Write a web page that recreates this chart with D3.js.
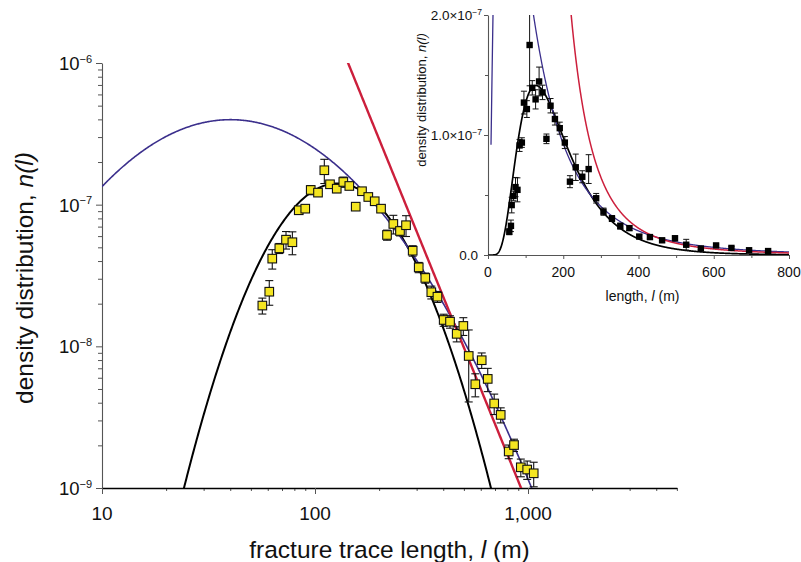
<!DOCTYPE html>
<html>
<head>
<meta charset="utf-8">
<script src="https://cdn.jsdelivr.net/npm/d3@7"></script>
<style>
  body { margin: 0; background: #fff; }
  svg { display: block; font-family: "Liberation Sans", Arial, sans-serif; }
</style>
</head>
<body>
<svg id="chart" width="801" height="562"></svg>
<script>
// Binned fracture trace lengths (m)
const traceLength = [56.6, 61.0, 63.0, 68.0, 73.1, 78.3, 83.9, 90.0, 95.5, 103.3,
  110.6, 117.6, 126.5, 135.8, 144.9, 155.3, 166.2, 177.9, 190.7, 204.2,
  217.8, 233.2, 250.6, 267.5, 287.5, 306.9, 329.5, 351.6, 375.8, 402.0,
  430.4, 462.7, 497.0, 526.8, 565.7, 606.2, 647.0, 693.9, 744.5, 811.8,
  859.8, 925.2, 991.3, 1063.6];
// Density distribution n(l) per bin
const density = [1.94e-8, 2.43e-8, 4.16e-8, 4.92e-8, 5.66e-8, 5.43e-8, 9.13e-8, 9.37e-8, 1.27e-7, 1.216e-7,
  1.75e-7, 1.393e-7, 1.297e-7, 1.446e-7, 1.355e-7, 9.68e-8, 1.244e-7, 1.133e-7, 1.057e-7, 9.37e-8,
  6.11e-8, 7.31e-8, 6.52e-8, 7.16e-8, 4.73e-8, 3.61e-8, 3.04e-8, 2.41e-8, 2.24e-8, 1.535e-8,
  1.493e-8, 1.225e-8, 1.393e-8, 8.55e-9, 5.40e-9, 7.98e-9, 5.89e-9, 3.95e-9, 3.28e-9, 1.81e-9,
  2.01e-9, 1.40e-9, 1.35e-9, 1.27e-9];
// One-sigma uncertainty of each bin
const densityErr = [0.25e-8, 0.48e-8, 0.65e-8, 0.4e-8, 0.8e-8, 1.0e-8, 0.5e-8, 0.4e-8, 0.95e-8, 0.7e-8,
  3.4e-8, 0.6e-8, 0.8e-8, 1.2e-8, 0.6e-8, 0.4e-8, 0.6e-8, 0.5e-8, 0.5e-8, 0.5e-8,
  0.5e-8, 1.1e-8, 0.5e-8, 1.2e-8, 0.4e-8, 0.3e-8, 0.25e-8, 0.25e-8, 0.2e-8, 0.15e-8,
  0.15e-8, 0.15e-8, 0.2e-8, 0.45e-8, 0.1e-8, 0.1e-8, 0.11e-8, 0.065e-8, 0.04e-8, 0.02e-8,
  0.02e-8, 0.02e-8, 0.02e-8, 0.025e-8];

// Fitted models. Log-normal fits as parabolas in log-log space:
// [log10 l at peak, log10 n at peak, curvature]
const lognormalFitBlack = [2.1055, -6.85, 4.14];
const lognormalFitBlue = [1.603, -6.40, 1.30];
// Power law n = n0 (l / l0)^-k : [l0, n0, k]
const powerLawFitRed = [143, 1e-6, 3.694];

// Axis ticks
const mainXTicks = [10, 100, 1000];
const mainXTickLabels = ["10", "100", "1,000"];
const mainYTicks = [1e-6, 1e-7, 1e-8, 1e-9];
const mainYExponents = ["\u22126", "\u22127", "\u22128", "\u22129"];
const insetXTicks = [0, 200, 400, 600, 800];
const insetYTicks = [0, 1e-7, 2e-7];
const insetYTickLabels = [["0.0", ""], ["1.0\u00d710", "\u22127"], ["2.0\u00d710", "\u22127"]];

const lognormal = p => l => Math.pow(10, p[1] - p[2] * Math.pow(Math.log10(l) - p[0], 2));
const powerLaw = p => l => p[1] * Math.pow(l / p[0], -p[2]);
const fitBlack = lognormal(lognormalFitBlack);
const fitBlue = lognormal(lognormalFitBlue);
const fitRed = powerLaw(powerLawFitRed);

const svg = d3.select("#chart");
const axisColor = "#555";

// ---------- main log-log panel ----------
const x = d3.scaleLog().domain([10, 5000]).range([102, 102 + 213 * Math.log10(500)]);
const y = d3.scaleLog().domain([1e-9, 1e-6]).range([488, 63]);

svg.append("clipPath").attr("id", "mainClip")
  .append("rect").attr("x", 102).attr("y", 63).attr("width", x.range()[1] - 102).attr("height", 425);

const yMinor = [];
for (let e = -9; e < -6; e++) for (let m = 2; m <= 9; m++) yMinor.push(m * Math.pow(10, e));
const xMinor = [];
for (let e = 1; e <= 3; e++) for (let m = 2; m <= 9; m++) { const v = m * Math.pow(10, e); if (v <= 5000) xMinor.push(v); }

const gy = svg.append("g").attr("transform", "translate(102,0)");
gy.call(d3.axisLeft(y).tickValues(yMinor).tickSize(4).tickFormat(""));
gy.call(g => g.select(".domain").remove());
svg.append("g").attr("transform", "translate(102,0)")
  .call(d3.axisLeft(y).tickValues(mainYTicks).tickSize(6).tickSizeOuter(0).tickFormat(""));

const gxMinor = svg.append("g").attr("transform", "translate(0,488)")
  .call(d3.axisBottom(x).tickValues(xMinor).tickSize(3).tickFormat(""));
gxMinor.select(".domain").remove();
const gx = svg.append("g").attr("transform", "translate(0,488)")
  .call(d3.axisBottom(x).tickValues(mainXTicks).tickSize(6).tickSizeOuter(0).tickFormat(""));

// tick labels
mainYTicks.forEach((v, i) => {
  const t = svg.append("text").attr("x", 92).attr("y", y(v) + 7)
    .attr("text-anchor", "end").attr("font-size", 18.5).attr("fill", "#111");
  t.append("tspan").text("10");
  t.append("tspan").attr("font-size", 11).attr("dy", -7.5).text(mainYExponents[i]);
});
mainXTicks.forEach((v, i) => {
  svg.append("text").attr("x", x(v)).attr("y", 519.5).attr("text-anchor", "middle")
    .attr("font-size", 19).attr("fill", "#111").text(mainXTickLabels[i]);
});

// axis titles
const xt = svg.append("text").attr("x", 389.5).attr("y", 558).attr("text-anchor", "middle")
  .attr("font-size", 24.5).attr("fill", "#111");
xt.append("tspan").text("fracture trace length, ");
xt.append("tspan").attr("font-style", "italic").text("l");
xt.append("tspan").text(" (m)");

const yt = svg.append("text").attr("transform", "translate(33,278) rotate(-90)")
  .attr("text-anchor", "middle").attr("font-size", 24.5).attr("fill", "#111");
yt.append("tspan").text("density distribution, ");
yt.append("tspan").attr("font-style", "italic").text("n(l)");

// fitted curves on log-log axes
const logSamples = d3.range(1, 3.7001, 0.004).map(u => Math.pow(10, u));
const plot = svg.append("g").attr("clip-path", "url(#mainClip)");
[[fitBlack, "#000", 2], [fitBlue, "#3b2f8c", 1.6], [fitRed, "#cc1f3c", 2.4]].forEach(([f, c, w]) => {
  plot.append("path")
    .attr("d", d3.line().x(l => x(l)).y(l => y(Math.max(f(l), 1e-11)))(logSamples))
    .attr("fill", "none").attr("stroke", c).attr("stroke-width", w);
});

// measured points with error bars
const pts = traceLength.map((l, i) => ({ l, n: density[i], e: densityErr[i] }));
const eb = svg.append("g").attr("stroke", "#111").attr("stroke-width", 1.1);
pts.forEach(p => {
  const y1 = y(p.n + p.e), y0 = y(Math.max(p.n - p.e, 1e-10)), cx = x(p.l);
  eb.append("line").attr("x1", cx).attr("x2", cx).attr("y1", y1).attr("y2", y0);
  eb.append("line").attr("x1", cx - 4).attr("x2", cx + 4).attr("y1", y1).attr("y2", y1);
  eb.append("line").attr("x1", cx - 4).attr("x2", cx + 4).attr("y1", y0).attr("y2", y0);
});
svg.append("g").selectAll("rect").data(pts).join("rect")
  .attr("x", d => x(d.l) - 4.3).attr("y", d => y(d.n) - 4.3)
  .attr("width", 8.6).attr("height", 8.6)
  .attr("fill", "#f4e521").attr("stroke", "#111").attr("stroke-width", 1.1);

// ---------- inset linear panel ----------
const ix = d3.scaleLinear().domain([0, 800]).range([488, 789]);
const iy = d3.scaleLinear().domain([0, 2e-7]).range([255, 15]);

svg.append("clipPath").attr("id", "insetClip")
  .append("rect").attr("x", 488).attr("y", 15).attr("width", 301).attr("height", 240);

const iyMinor = svg.append("g").attr("transform", "translate(488,0)")
  .call(d3.axisLeft(iy).tickValues([0.5e-7, 1.5e-7]).tickSize(3).tickFormat(""));
iyMinor.select(".domain").remove();
svg.append("g").attr("transform", "translate(488,0)").attr("class", "iaxis")
  .call(d3.axisLeft(iy).tickValues(insetYTicks).tickSize(4).tickSizeOuter(0).tickFormat(""));
const ixMinor = svg.append("g").attr("transform", "translate(0,255)")
  .call(d3.axisBottom(ix).tickValues([100, 300, 500, 700]).tickSize(3).tickFormat(""));
ixMinor.select(".domain").remove();
svg.append("g").attr("transform", "translate(0,255)").attr("class", "iaxis")
  .call(d3.axisBottom(ix).tickValues(insetXTicks).tickSize(4).tickSizeOuter(0).tickFormat(""));

svg.selectAll(".tick line").attr("stroke", axisColor);
svg.selectAll(".domain").attr("stroke", axisColor).attr("stroke-width", 1.1);
gx.select(".domain").attr("stroke", "#000").attr("stroke-width", 1.3);

insetYTicks.forEach((v, i) => {
  const t = svg.append("text").attr("x", i === 0 ? 478 : 482).attr("y", iy(v) + 4.8)
    .attr("text-anchor", "end").attr("font-size", 13.5).attr("fill", "#111");
  t.append("tspan").text(insetYTickLabels[i][0]);
  if (insetYTickLabels[i][1]) t.append("tspan").attr("font-size", 8.5).attr("dy", -5).text(insetYTickLabels[i][1]);
});
insetXTicks.forEach(v => {
  svg.append("text").attr("x", ix(v)).attr("y", 276.5).attr("text-anchor", "middle")
    .attr("font-size", 14).attr("fill", "#111").text(v);
});
const ixt = svg.append("text").attr("x", 642.5).attr("y", 301).attr("text-anchor", "middle")
  .attr("font-size", 14).attr("fill", "#111");
ixt.append("tspan").text("length, ");
ixt.append("tspan").attr("font-style", "italic").text("l");
ixt.append("tspan").text(" (m)");
const iyt = svg.append("text").attr("transform", "translate(426,100) rotate(-90)")
  .attr("text-anchor", "middle").attr("font-size", 13).attr("fill", "#111");
iyt.append("tspan").text("density distribution, ");
iyt.append("tspan").attr("font-style", "italic").text("n(l)");

const inset = svg.append("g").attr("clip-path", "url(#insetClip)");
const linSamples = start => d3.range(start, 800.01, 0.5);
[[fitBlack, "#000", 1.7, 1], [fitBlue, "#3b2f8c", 1.3, 8], [fitRed, "#cc1f3c", 1.5, 60]].forEach(([f, c, w, s]) => {
  inset.append("path")
    .attr("d", d3.line().x(l => ix(l)).y(l => iy(Math.min(f(l), 1e-6)))(linSamples(s)))
    .attr("fill", "none").attr("stroke", c).attr("stroke-width", w);
});
const ieb = inset.append("g").attr("stroke", "#111").attr("stroke-width", 1);
pts.filter(p => p.l <= 800).forEach(p => {
  const y1 = iy(p.n + p.e), y0 = iy(p.n - p.e), cx = ix(p.l);
  ieb.append("line").attr("x1", cx).attr("x2", cx).attr("y1", y1).attr("y2", y0);
  ieb.append("line").attr("x1", cx - 3).attr("x2", cx + 3).attr("y1", y1).attr("y2", y1);
  ieb.append("line").attr("x1", cx - 3).attr("x2", cx + 3).attr("y1", y0).attr("y2", y0);
});
inset.append("g").selectAll("rect").data(pts.filter(p => p.l <= 800)).join("rect")
  .attr("x", d => ix(d.l) - 3.2).attr("y", d => iy(d.n) - 3.2)
  .attr("width", 6.4).attr("height", 6.4).attr("fill", "#000");
</script>
</body>
</html>
